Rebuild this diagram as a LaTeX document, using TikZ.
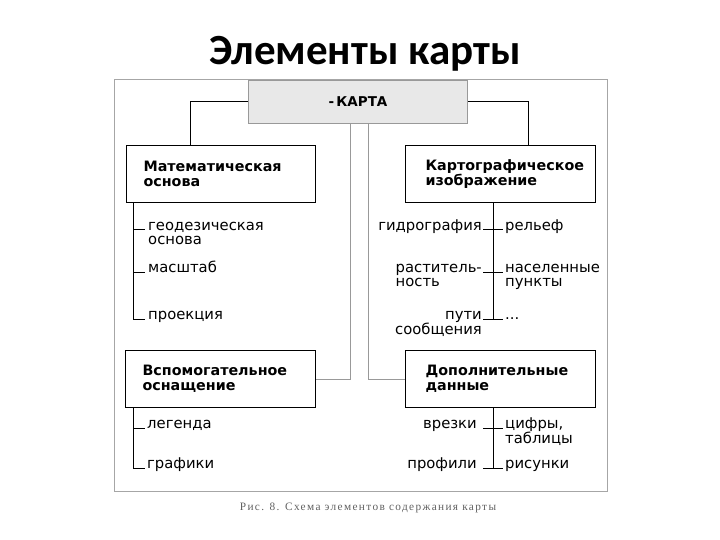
\documentclass[tikz,border=0pt]{standalone}
\usepackage{fontspec}
\setmainfont{DejaVu Sans}
\newfontfamily\titlefont{Carlito}
\newfontfamily\capfont{Liberation Serif}[LetterSpace=12]
\newcommand{\tl}[1]{\begin{tabular}[t]{@{}l@{}}#1\end{tabular}}
\newcommand{\tr}[1]{\begin{tabular}[t]{@{}r@{}}#1\end{tabular}}
\begin{document}
\begin{tikzpicture}[x=1pt,y=-1pt,
  box/.style={draw=black, line width=1.1pt, fill=white, anchor=north west,
    minimum height=57pt, inner ysep=0pt, align=left,
    font=\fontsize{14.3}{15}\selectfont\bfseries},
  item/.style={inner sep=0pt, font=\fontsize{14.8}{14.5}\selectfont},
  wire/.style={line width=1pt, black},
  gwire/.style={line width=1pt, gray!80},
]
\useasboundingbox (0,0) rectangle (720,540);
% title
\node[font=\titlefont\bfseries\fontsize{43}{50}\selectfont, anchor=base] (title) at (365,65) {Элементы карты};
% outer frame
\draw[gray!70, line width=1pt] (114,80) rectangle (607,491);
% KARTA
\node[draw=gray!80, fill=gray!18, line width=1pt, anchor=north west, minimum width=219pt, minimum height=43pt, inner sep=0pt,
  font=\fontsize{13.5}{15}\selectfont\bfseries] (karta) at (248,80) {-\,КАРТА};
% main boxes
\node[box, minimum width=189pt, text width=155pt, inner xsep=17pt] (math) at (126,145) {Математическая\\основа};
\node[box, minimum width=190pt, text width=150pt, inner xsep=20pt] (kart) at (405,145) {Картографическое\\изображение};
\node[box, minimum width=190pt, text width=156pt, inner xsep=17pt] (vsp) at (125,350) {Вспомогательное\\оснащение};
\node[box, minimum width=190pt, text width=150pt, inner xsep=20pt] (dop) at (405,350) {Дополнительные\\данные};
% connectors from KARTA
\draw[wire] (karta.west) -| ([xshift=64pt]math.north west);
\draw[wire] (karta.east) -| ([xshift=-68pt]kart.north east);
\draw[gwire] ([xshift=-7.5pt]karta.south) |- (vsp.east);
\draw[gwire] ([xshift=10.5pt]karta.south) |- (dop.west);
% math items
\node[item, anchor=base west] (m1) at (148,230) {\tl{геодезическая\\основа}};
\node[item, anchor=base west] (m2) at (148,272) {масштаб};
\node[item, anchor=base west] (m3) at (148,319) {проекция};
\coordinate (ms) at ([xshift=7pt]math.south west);
\draw[wire] (ms) |- ([xshift=-3pt]m3.base west);
\draw[wire] (ms |- m1.base) -- ([xshift=-3pt]m1.base west);
\draw[wire] (ms |- m2.base) -- ([xshift=-3pt]m2.base west);
% kart items
\coordinate (ks) at ([xshift=88pt]kart.south west);
\node[item, anchor=base east] (k1) at (482,230) {гидрография};
\node[item, anchor=base east] (k3) at (482,272) {\tl{раститель-\\ность}};
\node[item, anchor=base east] (k5) at (482,319) {\tr{пути\\сообщения}};
\node[item, anchor=base west] (k2) at (505,230) {рельеф};
\node[item, anchor=base west] (k4) at (505,272) {\tl{населенные\\пункты}};
\node[item, anchor=base west] (k6) at (505,319) {...};
\draw[wire] (ks) -- (ks |- k5.base);
\draw[wire] ([xshift=-10pt]ks |- k1.base) -- ([xshift=10pt]ks |- k1.base);
\draw[wire] ([xshift=-10pt]ks |- k3.base) -- ([xshift=10pt]ks |- k3.base);
\draw[wire] ([xshift=-10pt]ks |- k5.base) -- ([xshift=10pt]ks |- k5.base);
% vsp items
\coordinate (vs) at ([xshift=8pt]vsp.south west);
\node[item, anchor=base west] (v1) at (147,428) {легенда};
\node[item, anchor=base west] (v2) at (147,468) {графики};
\draw[wire] (vs) |- ([xshift=-2pt]v2.base west);
\draw[wire] (vs |- v1.base) -- ([xshift=-2pt]v1.base west);
% dop items
\coordinate (ds) at ([xshift=88pt]dop.south west);
\node[item, anchor=base east] (d1) at (477,428) {врезки};
\node[item, anchor=base east] (d3) at (477,468) {профили};
\node[item, anchor=base west] (d2) at (505,428) {\tl{цифры,\\таблицы}};
\node[item, anchor=base west] (d4) at (505,468) {рисунки};
\draw[wire] (ds) -- (ds |- d3.base);
\draw[wire] ([xshift=-10pt]ds |- d1.base) -- ([xshift=10pt]ds |- d1.base);
\draw[wire] ([xshift=-10pt]ds |- d3.base) -- ([xshift=10pt]ds |- d3.base);
% caption
\node[font=\capfont\fontsize{11.3}{13}\selectfont, text=gray!75!black, anchor=base] (cap) at (368,510) {Рис. 8. Схема элементов содержания карты};
\end{tikzpicture}
\end{document}
